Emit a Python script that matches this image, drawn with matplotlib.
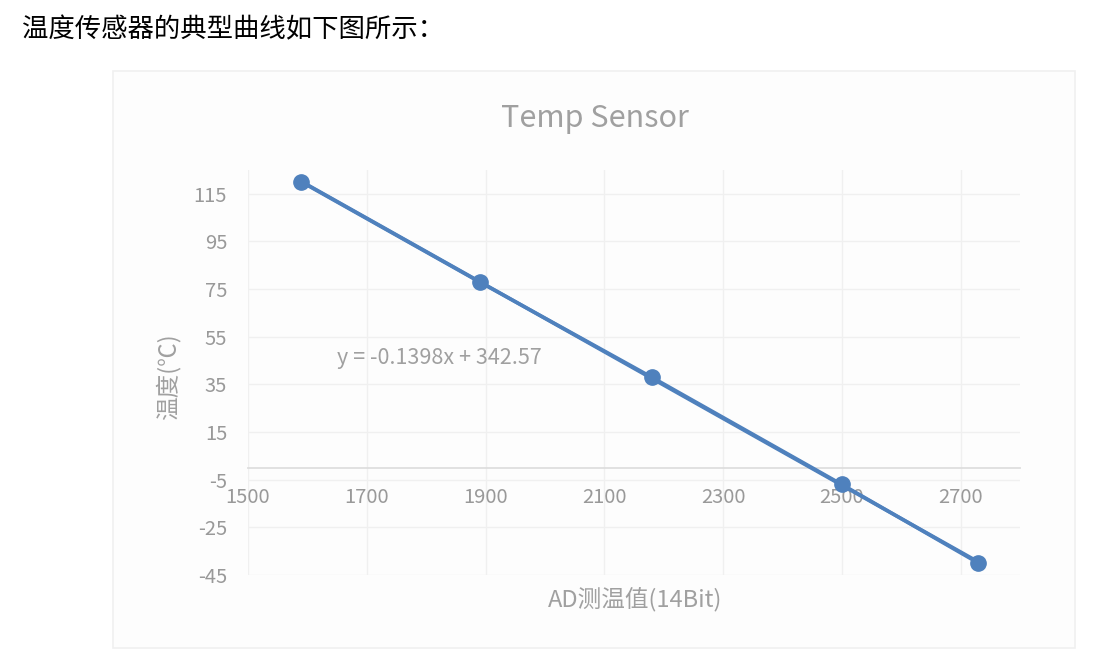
import numpy as np
import matplotlib
matplotlib.use("Agg")
import matplotlib.pyplot as plt
from matplotlib.patches import Rectangle

plt.rcParams['font.family'] = ['Noto Sans CJK SC', 'DejaVu Sans']
plt.rcParams['axes.unicode_minus'] = False

# 数据
ad_values = [1590, 1890, 2180, 2500, 2730]
temps = [120, 78, 38, -7, -40]
x_ticks = [1500, 1700, 1900, 2100, 2300, 2500, 2700]
y_ticks = [-45, -25, -5, 15, 35, 55, 75, 95, 115]
fit_label = "y = -0.1398x + 342.57"

W, H = 1101, 663
fig = plt.figure(figsize=(W / 100, H / 100), dpi=100)
fig.patch.set_facecolor("white")

# 页面文字
fig.text(22 / W, 1 - 30 / H, "温度传感器的典型曲线如下图所示：", fontsize=19,
         color="black", va="center", ha="left")

# 图表外框
box = Rectangle((113 / W, 1 - 648 / H), (1075 - 113) / W, (648 - 71) / H,
                transform=fig.transFigure, facecolor="#fdfdfd",
                edgecolor="#f0f0f0", linewidth=1.2, zorder=-5)
fig.patches.append(box)

ax = fig.add_axes([248 / W, 1 - 575 / H, (1020 - 248) / W, (575 - 170) / H])
ax.set_zorder(2)
ax.set_facecolor("none")
ax.set_xlim(1500, 2800)
ax.set_ylim(-45, 125)
ax.set_xticks(x_ticks)
ax.set_yticks(y_ticks)

grid_c = "#f0f0f0"
for xv in x_ticks:
    ax.axvline(xv, color=grid_c, lw=1, zorder=0)
for yv in y_ticks:
    ax.axhline(yv, color=grid_c, lw=1, zorder=0)

for s in ["top", "right", "left"]:
    ax.spines[s].set_visible(False)
ax.spines["bottom"].set_position(("data", 0))
ax.spines["bottom"].set_color("#dedede")
ax.spines["bottom"].set_linewidth(1.3)

ax.tick_params(length=0, labelsize=14.5, colors="#999999")
ax.tick_params(axis="x", pad=14)
ax.tick_params(axis="y", pad=15)

line_c = "#4f81bd"
coef = np.polyfit(ad_values, temps, 1)
xs = np.array([ad_values[0], ad_values[-1]])
ax.plot(xs, np.polyval(coef, xs), color=line_c, lw=2.6, zorder=3)
ax.plot(ad_values, temps, color=line_c, lw=2.6, marker="o", markersize=11, zorder=4)

ax.text(1650, 46, fit_label, fontsize=15.5, color="#a0a0a0", va="center", ha="left")

fig.text(595 / W, 1 - 119 / H, "Temp Sensor", fontsize=22, color="#a0a0a0",
         ha="center", va="center")
fig.text(635 / W, 1 - 600 / H, "AD测温值(14Bit)", fontsize=17, color="#a0a0a0",
         ha="center", va="center")
fig.text(168 / W, 1 - 377 / H, "温度(℃)", fontsize=17, color="#a0a0a0",
         ha="center", va="center", rotation=90)

fig.savefig("out.png", dpi=100)
